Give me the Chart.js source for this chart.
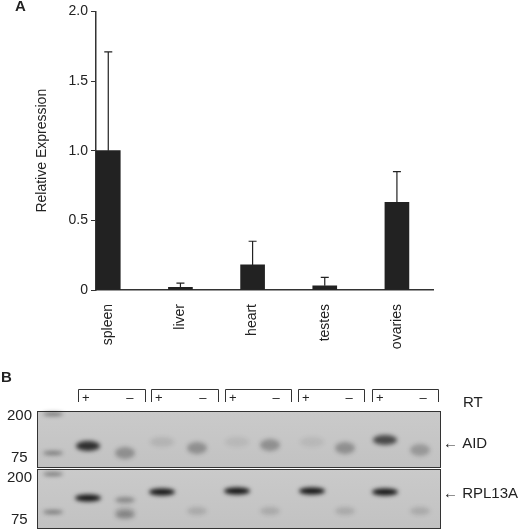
<!DOCTYPE html>
<html><head><meta charset="utf-8">
<script src="https://cdn.jsdelivr.net/npm/chart.js@4"></script>
<style>body{margin:0;background:#fff;font-family:Arial,"Liberation Sans",sans-serif}
#wrap{position:relative;width:520px;height:529px}
#c1{position:absolute;left:0;top:0}
#gel{position:absolute;left:0;top:368px}
.t{position:absolute;font-size:15px;color:#222}
</style></head><body>
<div id="wrap">
<div style="position:absolute;left:0;top:0;width:520px;height:368px"><canvas id="c1"></canvas></div>
<div class="t" style="left:15px;top:-3px;font-weight:bold">A</div>
<canvas id="gel" width="520" height="161"></canvas>
</div>
<script>
const categories=["spleen","liver","heart","testes","ovaries"];
const values=[1.0,0.02,0.18,0.03,0.63];
const errTop=[1.71,0.05,0.35,0.09,0.85];
const yTicks=[0,0.5,1.0,1.5,2.0];
const errPlugin={id:'err',afterDatasetsDraw(ch){const c=ch.ctx,x=ch.scales.x,y=ch.scales.y;c.save();c.strokeStyle='#222';c.lineWidth=1.2;
errTop.forEach((e,i)=>{const px=x.getPixelForValue(i),p0=y.getPixelForValue(values[i]),p1=y.getPixelForValue(e);c.beginPath();c.moveTo(px,p0);c.lineTo(px,p1);c.moveTo(px-4,p1);c.lineTo(px+4,p1);c.stroke();});c.restore();}};
new Chart(document.getElementById('c1'),{type:'bar',data:{datasets:[{data:values.map((v,i)=>({x:i,y:v})),backgroundColor:'#222',barThickness:24}]},
options:{responsive:true,maintainAspectRatio:false,animation:false,layout:{padding:{left:34,right:87,top:6,bottom:0}},
plugins:{legend:{display:false},tooltip:{enabled:false}},
scales:{x:{type:'linear',offset:false,min:-0.17,max:4.5,afterBuildTicks:s=>{s.ticks=categories.map((c,i)=>({value:i}))},grid:{display:false},border:{color:'#333',width:1.5},ticks:{color:'#222',font:{size:14},maxRotation:90,minRotation:90,padding:6,callback:v=>categories[v]},afterFit:s=>{s.height=78}},
y:{min:0,max:2,afterBuildTicks:s=>{s.ticks=yTicks.map(v=>({value:v}))},grid:{display:true,drawOnChartArea:false,tickLength:5,color:'#333'},border:{color:'#333',width:1.5},
ticks:{color:'#222',font:{size:14},padding:3,callback:v=>v===0?'0':v.toFixed(1)},title:{display:true,text:'Relative Expression',color:'#222',font:{size:14},padding:0},afterFit:s=>{s.width=62}}}},
plugins:[errPlugin]});
const g=document.getElementById('gel').getContext('2d');
g.fillStyle='#222';g.font='bold 15px Arial';g.fillText('B',1,14);
g.font='13px Arial';
const groups=[[78,145],[151,218],[225,291],[298,364],[372,438]];
g.strokeStyle='#333';g.lineWidth=1;
groups.forEach(([a,b])=>{g.beginPath();g.moveTo(a+.5,34);g.lineTo(a+.5,21.5);g.lineTo(b+.5,21.5);g.lineTo(b+.5,34);g.stroke();
g.fillText('+',a+4,34);g.fillText('–',a+(b-a)*0.72,34);});
g.font='15px Arial';g.fillText('RT',463,39);
function box(y0,h){const gr=g.createLinearGradient(0,y0,0,y0+h);gr.addColorStop(0,'#cacaca');gr.addColorStop(1,'#c2c2c2');g.fillStyle=gr;g.fillRect(37,y0,404,h);g.strokeStyle='#333';g.strokeRect(37.5,y0+.5,403,h);}
box(43,56);box(101,59);
function band(x,y,w,h,a){g.save();g.filter='blur(2px)';g.fillStyle=`rgba(20,20,20,${a})`;g.beginPath();g.ellipse(x,y,w,h,0,0,Math.PI*2);g.fill();g.restore();}
[[53,46],[53,85],[53,106],[53,144]].forEach(([x,y])=>band(x,y,10,1.8,0.5));
const plus=[88,162,237,312,385],minus=[125,197,270,345,420];
const aidPy=[78,74,74,74,72],aidP=[0.85,0.1,0.08,0.08,0.7],aidM=[0.3,0.3,0.3,0.3,0.25],aidMy=[85,80,77,80,82];
plus.forEach((x,i)=>band(x,aidPy[i],12,5,aidP[i]));
minus.forEach((x,i)=>band(x,aidMy[i],10,6,aidM[i]));
const rpY=[130,124,123,123,124];
plus.forEach((x,i)=>band(x,rpY[i],13,3.5,1));
minus.forEach((x,i)=>{band(x,143,10,4,0.15);});
band(125,132,10,3,0.35);band(125,147,10,4,0.3);
g.fillStyle='#222';g.font='15px Arial';
g.fillText('200',7,52);g.fillText('75',11,94);g.fillText('200',7,114);g.fillText('75',11,156);
g.fillText('← AID',443,80);g.fillText('← RPL13A',443,130);
</script></body></html>
